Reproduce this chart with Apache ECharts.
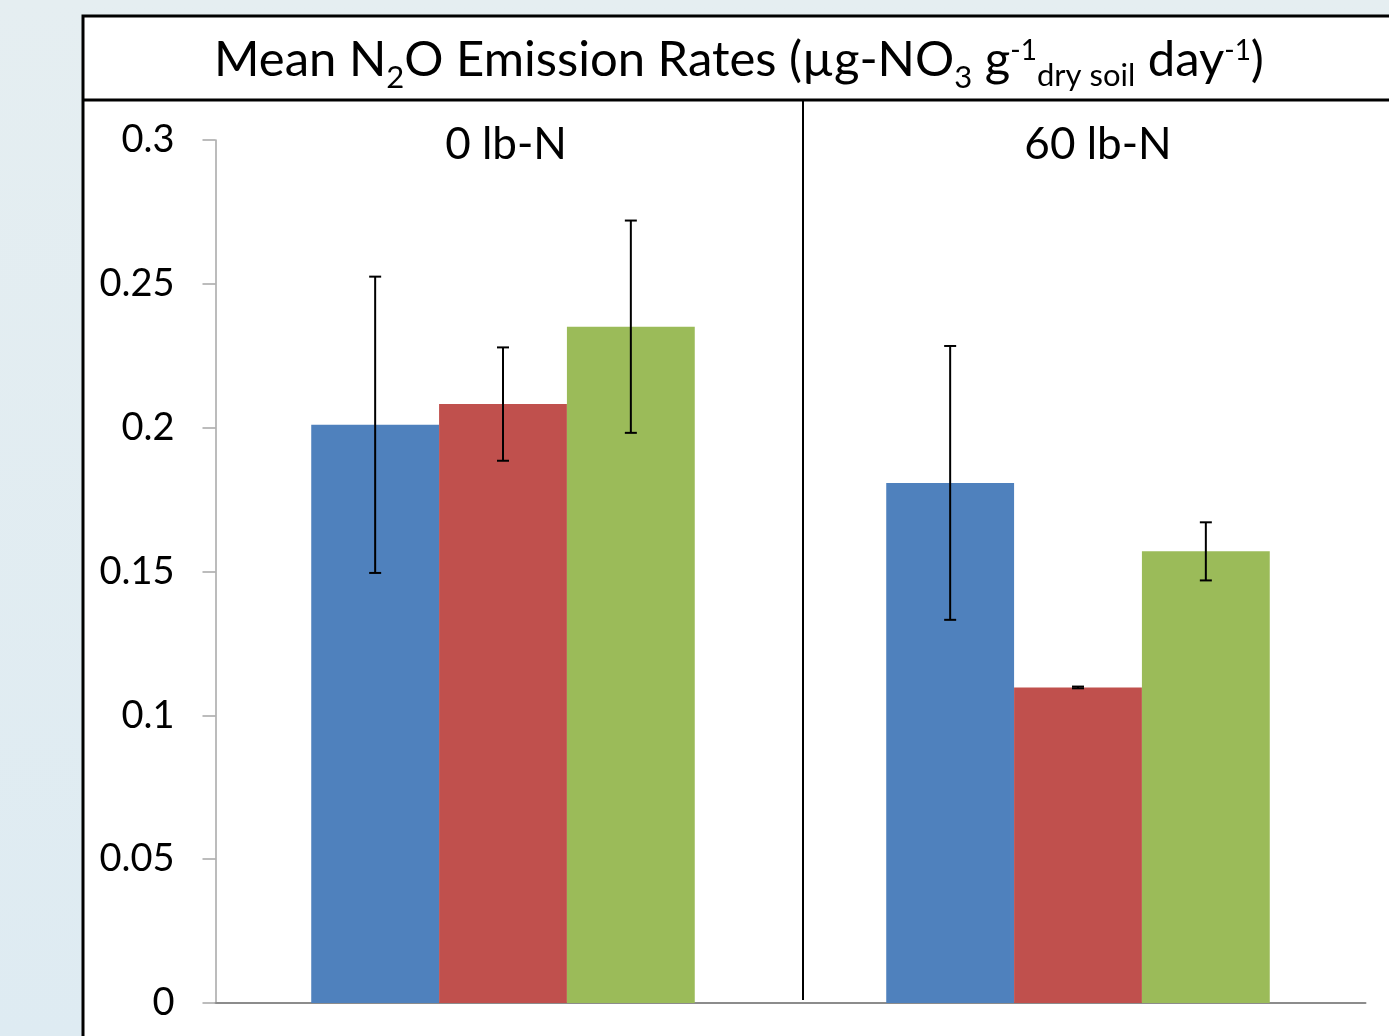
<!DOCTYPE html>
<html>
<head>
<meta charset="utf-8">
<script src="https://cdn.jsdelivr.net/npm/echarts@6/dist/echarts.min.js"></script>
<style>
html,body{margin:0;padding:0;width:1389px;height:1036px;overflow:hidden;}
#chart{width:1389px;height:1036px;}
</style>
</head>
<body>
<div id="chart"></div>
<script>
// ---- data ----
var categories = ['0 lb-N', '60 lb-N'];
var seriesNames = ['Treatment A', 'Treatment B', 'Treatment C'];
var blueValues = [0.2010, 0.1808];
var redValues = [0.2082, 0.1097];
var greenValues = [0.2351, 0.1570];
var blueErrors = [0.0515, 0.0476];
var redErrors = [0.0197, 0.0003];
var greenErrors = [0.0369, 0.0101];
var yTicks = [0, 0.05, 0.1, 0.15, 0.2, 0.25, 0.3];

var colors = ['#4f81bd', '#c0504d', '#9bbb59'];
var valueSets = [blueValues, redValues, greenValues];
var errorSets = [blueErrors, redErrors, greenErrors];
var CAT_GAP = 0.333;

var chart = echarts.init(document.getElementById('chart'), null, {renderer: 'canvas'});
var FONT = 'Lato';

var series = [];
valueSets.forEach(function (vals, s) {
  series.push({
    name: seriesNames[s],
    type: 'bar',
    data: vals,
    barGap: '0%',
    barCategoryGap: (CAT_GAP * 100) + '%',
    itemStyle: {color: colors[s]},
    z: 2
  });
});
valueSets.forEach(function (vals, s) {
  var data = vals.map(function (v, i) { return [i, v, errorSets[s][i]]; });
  series.push({
    type: 'custom',
    name: seriesNames[s] + ' error',
    data: data,
    encode: {x: 0, y: 1},
    z: 5,
    silent: true,
    renderItem: function (params, api) {
      var ci = api.value(0), v = api.value(1), e = api.value(2);
      var band = api.size([1, 0])[0];
      var barW = band * (1 - CAT_GAP) / 3;
      var off = (s - 1) * barW;
      var top = api.coord([ci, v + e]);
      var bot = api.coord([ci, v - e]);
      var x = top[0] + off;
      var cap = 6;
      var st = {stroke: '#000', lineWidth: 2};
      return {
        type: 'group',
        children: [
          {type: 'line', shape: {x1: x, y1: top[1], x2: x, y2: bot[1]}, style: st},
          {type: 'line', shape: {x1: x - cap, y1: top[1], x2: x + cap, y2: top[1]}, style: st},
          {type: 'line', shape: {x1: x - cap, y1: bot[1], x2: x + cap, y2: bot[1]}, style: st}
        ]
      };
    }
  });
});

var option = {
  animation: false,
  backgroundColor: {
    type: 'linear', x: 0, y: 0, x2: 0, y2: 1,
    colorStops: [{offset: 0, color: '#e5eef1'}, {offset: 1, color: '#deebf2'}]
  },
  textStyle: {fontFamily: FONT},
  title: {
    text: 'Mean N{sub|2}O Emission Rates (\u00b5g-NO{sub|3} g{sup|-1}{sub2|dry soil} day{sup|-1})',
    left: 739,
    textAlign: 'center',
    top: 25,
    padding: 0,
    textStyle: {
      fontFamily: FONT, fontSize: 49, fontWeight: 'normal', color: '#000', lineHeight: 70,
      rich: {
        sub: {fontFamily: FONT, fontSize: 31, color: '#000', verticalAlign: 'bottom', padding: [0, 0, 2, 0]},
        sub2: {fontFamily: FONT, fontSize: 31, color: '#000', verticalAlign: 'bottom', padding: [0, 0, 4, 0]},
        sup: {fontFamily: FONT, fontSize: 28, color: '#000', verticalAlign: 'top', padding: [12, 0, 0, 0]}
      }
    }
  },
  grid: {left: 215.5, right: 23.5, top: 140, bottom: 33, containLabel: false},
  xAxis: {
    type: 'category',
    data: categories,
    axisLine: {lineStyle: {color: '#8c8c8c', width: 2}},
    axisTick: {show: false},
    axisLabel: {show: false},
    splitLine: {show: false}
  },
  yAxis: {
    type: 'value',
    min: 0, max: 0.3, interval: 0.05,
    axisLine: {show: true, lineStyle: {color: '#a6a6a6', width: 1.5}},
    axisTick: {show: true, inside: false, length: 13, lineStyle: {color: '#a6a6a6', width: 1.5}},
    axisLabel: {
      margin: 41, fontFamily: FONT, fontSize: 38, color: '#000',
      formatter: function (v) {
        for (var i = 0; i < yTicks.length; i++) {
          if (Math.abs(yTicks[i] - v) < 1e-9) return String(yTicks[i]);
        }
        return '';
      }
    },
    splitLine: {show: false}
  },
  graphic: [
    {type: 'rect', z: -10, shape: {x: 83, y: 16, width: 1330, height: 1050},
     style: {fill: '#ffffff', stroke: '#000', lineWidth: 3}},
    {type: 'line', z: -5, shape: {x1: 83, y1: 100, x2: 1400, y2: 100},
     style: {stroke: '#000', lineWidth: 3}},
    {type: 'line', z: 10, shape: {x1: 803, y1: 100, x2: 803, y2: 1000},
     style: {stroke: '#000', lineWidth: 2}},
    {type: 'text', z: 10, x: 506, y: 145,
     style: {text: categories[0], font: '44px ' + FONT, fill: '#000', textAlign: 'center', textVerticalAlign: 'middle'}},
    {type: 'text', z: 10, x: 1098, y: 145,
     style: {text: categories[1], font: '44px ' + FONT, fill: '#000', textAlign: 'center', textVerticalAlign: 'middle'}}
  ],
  series: series
};
chart.setOption(option);
</script>
</body>
</html>
